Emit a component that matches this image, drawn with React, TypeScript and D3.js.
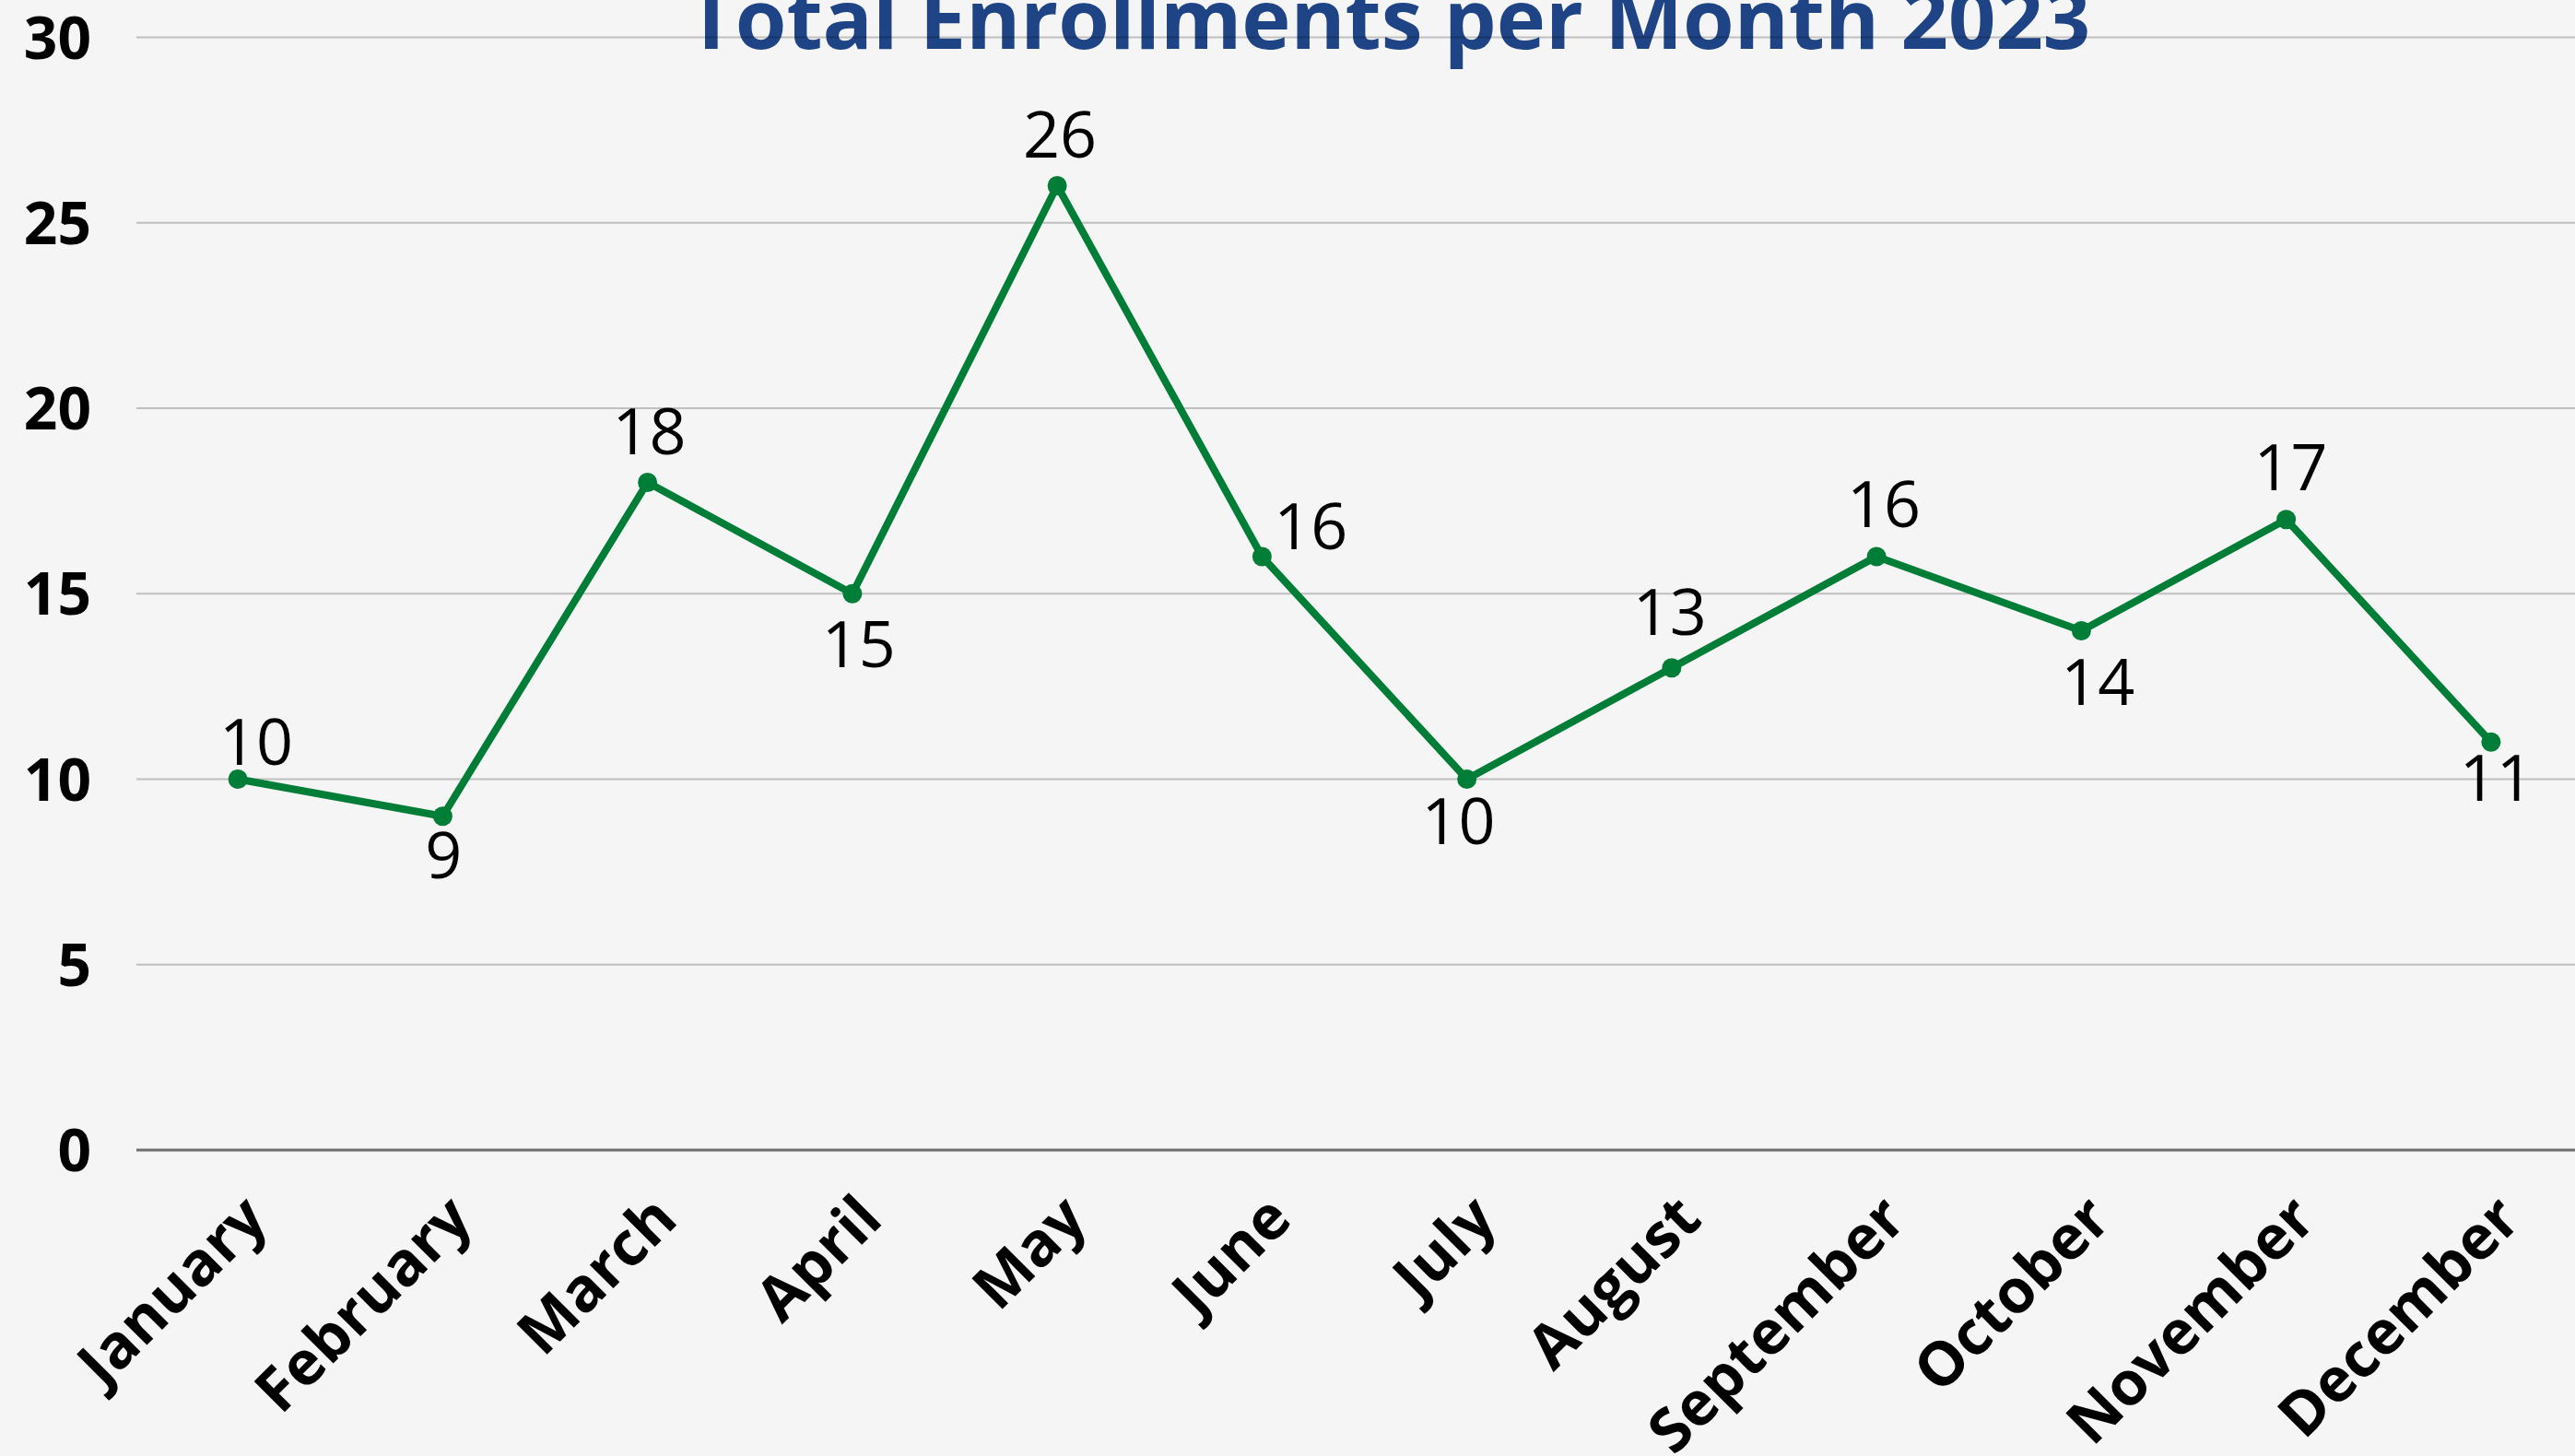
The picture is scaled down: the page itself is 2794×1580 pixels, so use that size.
import React, { useEffect, useRef } from 'react';
import * as d3 from 'd3';

const months = ['January', 'February', 'March', 'April', 'May', 'June', 'July', 'August', 'September', 'October', 'November', 'December'];
const enrollments = [10, 9, 18, 15, 26, 16, 10, 13, 16, 14, 17, 11];
const yTicks = [0, 5, 10, 15, 20, 25, 30];
const title = 'Total Enrollments per Month 2023';

// where each data label sits relative to its point (px)
const labelNudge: [number, number][] = [
  [20, -16], [1, 67], [2, -31], [7, 80], [3, -31], [53, -8],
  [-9, 70], [-2, -36], [8, -32], [18, 80], [5, -32], [6, 64],
];

const W = 2794;
const H = 1580;

const App = () => {
  const ref = useRef<SVGSVGElement>(null);

  useEffect(() => {
    if (!ref.current) return;
    const svg = d3.select(ref.current);
    svg.selectAll('*').remove();

    const x = d3.scaleBand<string>().domain(months).range([147, 2814]);
    const y = d3.scaleLinear().domain([0, 30]).range([1248, 40.5]);
    const cx = (m: string) => (x(m) as number) + x.bandwidth() / 2;

    svg.append('rect').attr('width', W).attr('height', H).attr('fill', '#f5f5f5');

    // title (gridlines pass over it)
    svg.append('text')
      .attr('x', 1507)
      .attr('y', 53)
      .attr('text-anchor', 'middle')
      .attr('font-family', '"Open Sans", sans-serif')
      .attr('font-weight', 700)
      .attr('font-size', 90)
      .attr('fill', '#1f4485')
      .text(title);

    // gridlines
    svg.append('g')
      .selectAll('line')
      .data(yTicks.filter(d => d > 0))
      .enter()
      .append('line')
      .attr('x1', 148)
      .attr('x2', W)
      .attr('y1', d => y(d))
      .attr('y2', d => y(d))
      .attr('stroke', '#000')
      .attr('stroke-opacity', 0.22)
      .attr('stroke-width', 2);

    svg.append('line')
      .attr('x1', 148)
      .attr('x2', W)
      .attr('y1', y(0))
      .attr('y2', y(0))
      .attr('stroke', '#6e6e6e')
      .attr('stroke-width', 3);

    // y tick labels
    svg.append('g')
      .selectAll('text')
      .data(yTicks)
      .enter()
      .append('text')
      .attr('x', 99)
      .attr('y', d => y(d))
      .attr('dy', '0.36em')
      .attr('text-anchor', 'end')
      .attr('font-family', '"Open Sans", sans-serif')
      .attr('font-weight', 700)
      .attr('font-size', 64)
      .attr('fill', '#000')
      .text(d => d);

    // x labels
    svg.append('g')
      .selectAll('text')
      .data(months)
      .enter()
      .append('text')
      .attr('transform', d => `translate(${cx(d) + 35},${y(0) + 78}) rotate(-45)`)
      .attr('text-anchor', 'end')
      .attr('font-family', '"Open Sans", sans-serif')
      .attr('font-weight', 700)
      .attr('font-size', 66)
      .attr('fill', '#000')
      .text(d => d);

    // line
    const line = d3.line<number>()
      .x((_, i) => cx(months[i]))
      .y(d => y(d));

    svg.append('path')
      .datum(enrollments)
      .attr('d', line)
      .attr('fill', 'none')
      .attr('stroke', '#007d36')
      .attr('stroke-width', 8)
      .attr('stroke-linejoin', 'round');

    svg.append('g')
      .selectAll('circle')
      .data(enrollments)
      .enter()
      .append('circle')
      .attr('cx', (_, i) => cx(months[i]))
      .attr('cy', d => y(d))
      .attr('r', 10.5)
      .attr('fill', '#007d36');

    // data labels
    svg.append('g')
      .selectAll('text')
      .data(enrollments)
      .enter()
      .append('text')
      .attr('x', (_, i) => cx(months[i]) + labelNudge[i][0])
      .attr('y', (d, i) => y(d) + labelNudge[i][1])
      .attr('text-anchor', 'middle')
      .attr('font-family', '"Open Sans", sans-serif')
      .attr('font-size', 70)
      .attr('fill', '#000')
      .text(d => d);
  }, []);

  return (
    <svg
      ref={ref}
      width={W}
      height={H}
      style={{ position: 'absolute', left: 0, top: 0, display: 'block' }}
    />
  );
};

export default App;
